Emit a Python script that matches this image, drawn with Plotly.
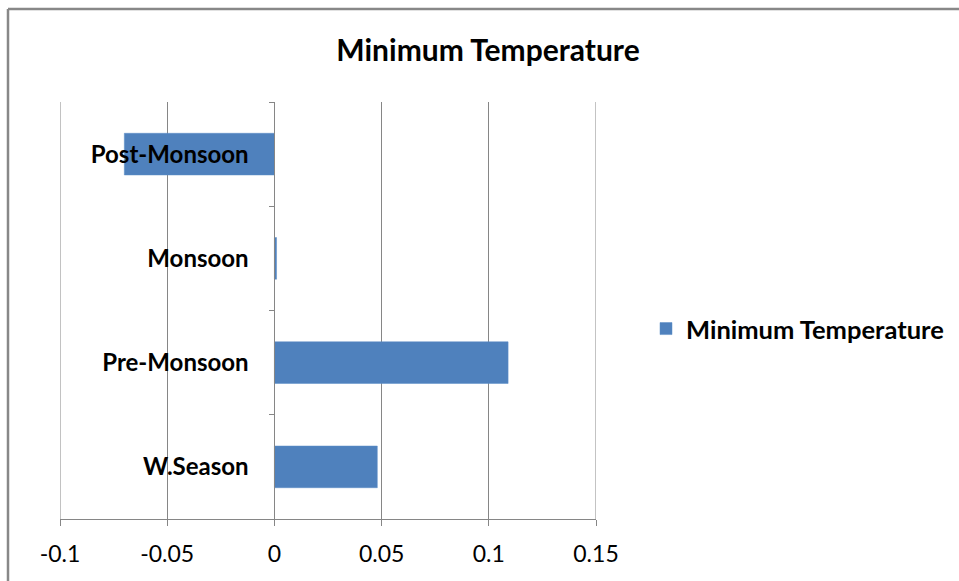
import plotly.graph_objects as go

# Seasonal trend values for minimum temperature
seasons = ["Post-Monsoon", "Monsoon", "Pre-Monsoon", "W.Season"]
min_temp = [-0.07, 0.001, 0.109, 0.048]
x_ticks = [-0.1, -0.05, 0, 0.05, 0.1, 0.15]
x_tick_text = ["-0.1", "-0.05", "0", "0.05", "0.1", "0.15"]

W, H = 959, 581
L, R, T, B = 60, 363, 102, 62
plot_w = W - L - R
plot_h = H - T - B

FONT = "Lato, Carlito, Calibri, sans-serif"
GRID = "#868686"

fig = go.Figure()
fig.add_trace(go.Bar(
    y=seasons,
    x=min_temp,
    orientation="h",
    name="Minimum Temperature",
    marker=dict(color="#4F81BD", line=dict(color="#5B8CC6", width=0.5)),
))

x_min, x_max = x_ticks[0], x_ticks[-1]
zero_frac = (0 - x_min) / (x_max - x_min)

def px_x(px):
    return (px - L) / plot_w

def px_y(py):
    return (H - B - py) / plot_h

fig.update_layout(
    width=W, height=H,
    margin=dict(l=L, r=R, t=T, b=B, autoexpand=False),
    paper_bgcolor="white",
    plot_bgcolor="white",
    bargap=0.6,
    title=dict(
        text="<b>Minimum Temperature</b>",
        font=dict(family=FONT, size=30, color="#000000"),
        x=488 / W, xref="container", xanchor="center",
        y=1 - 50 / H, yref="container", yanchor="middle",
    ),
    xaxis=dict(
        range=[x_min, x_max],
        tickvals=x_ticks,
        ticktext=x_tick_text,
        showgrid=True, gridcolor=GRID, gridwidth=1,
        zeroline=False,
        showline=True, linecolor=GRID, linewidth=1,
        ticks="outside", ticklen=6, tickcolor=GRID,
        tickfont=dict(family=FONT, size=23, color="#000000"),
        ticklabelstandoff=8,
    ),
    yaxis=dict(
        categoryorder="array",
        categoryarray=seasons[::-1],
        anchor="free",
        position=zero_frac,
        showgrid=False,
        zeroline=False,
        showline=True, linecolor=GRID, linewidth=1,
        ticks="outside", ticklen=5, tickcolor=GRID,
        tickson="boundaries",
        tickfont=dict(family=FONT, size=24, color="#000000", weight="bold"),
        ticklabelstandoff=21,
    ),
    showlegend=True,
    legend=dict(
        x=px_x(646), y=px_y(329),
        xanchor="left", yanchor="middle",
        font=dict(family=FONT, size=25.5, color="#000000", weight="bold"),
        bgcolor="rgba(0,0,0,0)",
        itemwidth=30,
    ),
)

# Gridlines at both ends of the value axis
for xv in (x_min, x_max):
    fig.add_shape(type="line", xref="x", yref="paper",
                  x0=xv, x1=xv, y0=0, y1=1, layer="below",
                  line=dict(color=GRID, width=1))

# Outer chart-area frame (top and left edges visible)
fig.add_shape(type="line", xref="paper", yref="paper",
              x0=px_x(8), x1=px_x(W + 5), y0=px_y(9), y1=px_y(9),
              line=dict(color="#888888", width=2.5))
fig.add_shape(type="line", xref="paper", yref="paper",
              x0=px_x(8), x1=px_x(8), y0=px_y(9), y1=px_y(H + 5),
              line=dict(color="#888888", width=2.5))

fig.write_html("out.html")
